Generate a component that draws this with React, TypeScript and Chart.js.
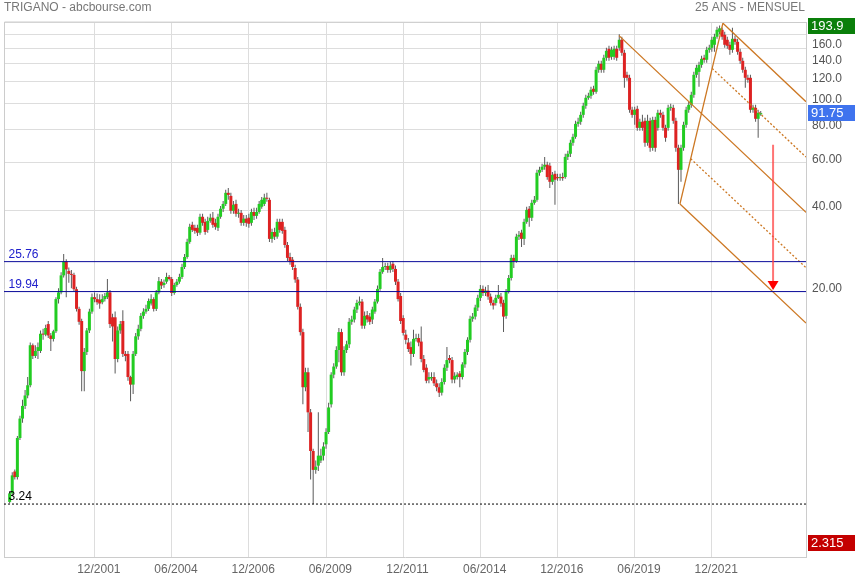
import React, { useEffect, useRef } from 'react';
import { Chart, registerables } from 'chart.js';

Chart.register(...registerables);

// ---- texts ----
const title = 'TRIGANO - abcbourse.com';
const periodLabel = '25 ANS - MENSUEL';

// ---- monthly candles (first candle month, then O/H/L/C per month) ----
const firstCandle = '03/1999';
const opens = [
  3.30, 3.55, 4.28, 4.08, 5.70, 6.73, 7.50, 8.20, 8.95, 12.6,
  11.5, 12.0, 12.0, 13.9, 13.8, 15.1, 13.7, 13.3, 14.2, 18.7,
  19.8, 22.9, 25.8, 23.8, 23.2, 23.0, 20.35, 17.2, 15.5, 10.1,
  11.9, 14.3, 16.8, 19.0, 18.7, 18.6, 18.2, 18.7, 19.0, 19.8,
  16.0, 16.0, 11.2, 14.3, 15.5, 11.7, 11.7, 9.6, 9.0, 11.7,
  13.6, 14.5, 16.2, 16.8, 17.2, 18.0, 18.7, 17.2, 19.8, 21.7,
  21.1, 21.7, 22.6, 22.2, 19.7, 21.1, 21.7, 22.6, 24.6, 26.8,
  30.5, 35.3, 34.4, 34.4, 33.0, 37.8, 36.2, 33.8, 36.5, 37.5,
  35.9, 34.4, 37.8, 40.5, 42.2, 46.4, 45.2, 39.8, 42.2, 38.8,
  39.1, 35.9, 37.2, 37.5, 35.9, 39.4, 38.1, 39.4, 41.2, 42.2,
  44.5, 43.7, 31.3, 33.2, 31.9, 36.2, 36.2, 33.8, 29.7, 26.8,
  26.2, 24.4, 22.1, 17.5, 14.1, 8.8, 10.0, 7.1, 5.1, 4.34,
  4.5, 4.7, 4.9, 5.4, 6.0, 7.6, 9.8, 10.5, 12.1, 14.1,
  10.0, 12.1, 12.7, 15.4, 15.7, 17.1, 18.1, 18.3, 14.9, 16.3,
  16.1, 15.7, 16.8, 18.3, 20.4, 23.6, 24.6, 24.8, 24.0, 25.3,
  24.2, 21.7, 19.2, 15.9, 13.8, 12.9, 12.4, 11.7, 13.3, 13.4,
  13.0, 11.2, 10.4, 9.4, 9.5, 9.6, 9.1, 8.8, 8.4, 9.2,
  10.4, 11.3, 11.1, 9.4, 9.6, 9.9, 9.6, 10.7, 11.9, 13.2,
  15.8, 16.1, 17.4, 18.9, 20.4, 19.7, 20.1, 19.1, 18.1, 18.1,
  18.9, 19.1, 18.1, 16.2, 19.9, 22.4, 26.6, 25.9, 31.9, 33.0,
  31.3, 36.2, 40.5, 37.5, 42.6, 43.7, 55.1, 56.5, 58.0, 59.0,
  58.5, 51.0, 54.6, 53.1, 52.6, 53.1, 53.1, 63.1, 64.8, 71.2,
  74.9, 83.7, 85.2, 90.4, 97.7, 104.6, 106.4, 113.0, 110.1, 132.9,
  139.9, 132.9, 147.3, 159.0, 148.5, 148.5, 159.0, 160.4, 171.8, 153.7,
  127.3, 124.1, 94.4, 90.4, 95.2, 80.9, 85.2, 85.9, 71.2, 85.9,
  68.2, 86.6, 80.9, 92.0, 90.4, 80.9, 80.9, 96.0, 96.0, 85.9,
  68.2, 56.5, 68.2, 83.0, 94.4, 98.5, 107.3, 127.3, 130.6, 138.7,
  147.3, 144.8, 157.7, 160.4, 164.6, 176.3, 183.9, 187.1, 179.3, 171.8,
  164.6, 157.7, 173.2, 168.8, 155.0, 143.5, 132.9, 124.1, 124.1, 94.4,
  96.0, 87.4, 90.8,
];
const highs = [
  3.62, 4.25, 4.35, 5.80, 6.90, 7.90, 8.60, 9.60, 12.9, 12.8,
  12.6, 12.9, 14.3, 14.5, 15.0, 15.5, 14.0, 14.4, 19.0, 20.5,
  23.5, 27.5, 26.3, 24.5, 24.0, 23.4, 20.8, 17.5, 15.8, 12.3,
  14.6, 17.2, 19.6, 19.8, 19.6, 19.5, 19.5, 19.7, 22.2, 20.2,
  16.5, 16.8, 14.8, 15.5, 17.0, 12.0, 12.0, 9.7, 12.0, 14.0,
  15.0, 16.6, 17.3, 17.8, 18.8, 19.5, 19.0, 20.2, 22.6, 22.2,
  22.1, 23.4, 23.0, 22.6, 21.5, 22.2, 23.2, 25.3, 27.5, 31.3,
  35.6, 36.2, 35.3, 35.3, 38.8, 38.8, 37.2, 37.8, 38.8, 39.4,
  37.2, 38.8, 41.5, 43.3, 47.6, 48.4, 46.4, 43.3, 43.7, 40.5,
  40.1, 38.4, 38.4, 38.8, 40.5, 40.8, 40.8, 43.3, 44.8, 46.0,
  46.4, 44.5, 34.1, 34.4, 37.2, 37.2, 37.2, 34.7, 30.5, 27.8,
  26.8, 25.1, 22.6, 18.0, 14.5, 10.4, 10.4, 7.3, 5.2, 4.7,
  7.1, 5.2, 5.5, 6.2, 7.7, 10.0, 10.8, 12.5, 14.6, 14.5,
  12.5, 13.1, 15.9, 16.2, 17.5, 18.6, 19.1, 18.7, 16.8, 16.9,
  16.6, 17.5, 18.7, 21.0, 24.2, 26.6, 25.5, 25.5, 25.7, 25.9,
  24.9, 22.2, 19.7, 16.3, 14.4, 13.4, 13.0, 14.4, 13.9, 13.9,
  14.8, 11.6, 10.7, 10.0, 10.0, 10.0, 9.4, 9.1, 9.5, 10.7,
  12.4, 11.6, 11.4, 10.0, 10.0, 10.1, 10.9, 12.2, 13.5, 16.2,
  16.6, 17.8, 19.4, 21.1, 21.0, 20.8, 21.1, 19.6, 18.6, 19.4,
  21.1, 19.7, 18.6, 20.4, 23.0, 27.3, 27.3, 32.7, 33.5, 33.8,
  37.2, 41.2, 41.5, 43.7, 45.2, 56.5, 58.0, 59.5, 63.1, 60.5,
  60.0, 55.5, 56.0, 54.6, 54.6, 55.1, 64.8, 66.5, 73.0, 76.9,
  85.9, 88.1, 92.8, 100.2, 107.3, 109.2, 114.9, 115.9, 136.3, 143.5,
  143.5, 151.1, 160.4, 163.2, 161.8, 163.2, 163.2, 180.0, 176.3, 157.7,
  130.6, 127.3, 96.8, 96.8, 97.7, 87.4, 90.4, 88.1, 90.4, 88.1,
  88.9, 88.9, 94.4, 94.4, 92.8, 83.0, 98.5, 99.4, 98.5, 88.1,
  70.0, 70.0, 85.2, 96.8, 101.1, 110.1, 130.6, 138.7, 142.3, 149.8,
  151.1, 161.8, 164.6, 176.3, 180.8, 192.0, 193.9, 191.0, 183.9, 176.3,
  168.8, 190.3, 177.8, 173.2, 159.0, 147.3, 136.3, 127.3, 127.3, 98.5,
  98.5, 94.4, 93.5,
];
const lows = [
  3.26, 3.50, 4.00, 4.00, 5.60, 6.50, 7.30, 8.00, 8.80, 11.2,
  11.3, 11.2, 11.8, 13.2, 13.6, 13.4, 12.0, 13.0, 14.0, 18.0,
  19.5, 22.5, 19.0, 21.5, 20.5, 20.0, 16.8, 15.0, 8.5, 8.5,
  11.6, 14.0, 16.5, 18.2, 17.8, 17.2, 17.9, 18.3, 18.7, 14.6,
  13.0, 9.9, 10.9, 13.9, 11.4, 11.0, 9.3, 7.8, 8.3, 11.5,
  13.2, 14.2, 15.8, 16.5, 16.9, 17.7, 16.8, 16.9, 19.5, 20.4,
  20.6, 21.3, 21.9, 19.2, 19.4, 20.8, 21.3, 22.2, 24.2, 26.4,
  30.0, 33.2, 32.7, 32.1, 32.4, 35.0, 32.4, 33.0, 35.9, 34.4,
  33.8, 33.5, 37.2, 39.4, 41.5, 43.7, 38.8, 38.8, 37.8, 37.5,
  35.0, 35.0, 34.7, 34.4, 35.0, 36.8, 37.2, 38.8, 40.5, 41.5,
  43.0, 30.5, 30.3, 31.0, 31.3, 33.0, 32.7, 29.0, 25.9, 25.1,
  24.0, 21.5, 17.1, 13.7, 7.6, 8.5, 6.0, 4.0, 3.24, 4.2,
  4.3, 4.6, 4.7, 5.2, 5.9, 7.4, 9.5, 10.3, 10.9, 9.7,
  9.7, 11.8, 12.3, 15.0, 15.3, 16.6, 17.7, 14.5, 14.5, 15.3,
  15.0, 15.1, 16.5, 18.0, 20.1, 23.2, 24.0, 23.4, 23.4, 23.6,
  21.1, 18.3, 15.1, 13.7, 12.7, 11.9, 10.6, 11.4, 13.0, 12.5,
  10.9, 10.0, 9.1, 9.1, 9.3, 8.9, 8.5, 8.1, 8.2, 9.0,
  10.1, 10.8, 9.1, 9.1, 9.4, 8.8, 9.4, 10.4, 11.6, 12.9,
  15.4, 15.7, 16.9, 18.4, 19.2, 19.2, 18.6, 17.7, 17.1, 17.7,
  18.7, 17.5, 14.1, 15.8, 19.6, 21.9, 24.4, 25.5, 31.0, 29.2,
  29.7, 35.6, 34.7, 36.5, 41.9, 43.0, 53.7, 55.5, 56.5, 51.9,
  48.4, 49.7, 41.9, 51.4, 51.4, 51.4, 52.3, 61.5, 63.1, 69.4,
  73.7, 81.6, 83.0, 88.1, 95.2, 102.8, 103.7, 107.3, 108.2, 129.5,
  129.5, 129.5, 143.5, 143.5, 144.8, 144.8, 143.5, 156.3, 149.8, 113.9,
  121.0, 92.0, 88.1, 83.0, 78.9, 78.9, 78.9, 68.8, 69.4, 65.9,
  66.5, 65.9, 78.9, 88.1, 78.9, 71.8, 78.9, 93.6, 83.7, 65.9,
  42.2, 51.0, 66.5, 80.9, 92.0, 96.0, 104.6, 124.1, 114.9, 135.2,
  141.1, 141.1, 153.7, 155.0, 155.0, 173.2, 180.0, 171.8, 160.4, 159.0,
  151.1, 153.7, 164.6, 151.1, 139.9, 129.5, 113.9, 118.9, 92.0, 92.0,
  85.2, 74.3, 89.8,
];
const closes = [
  3.55, 4.14, 4.08, 5.70, 6.73, 7.50, 8.20, 8.95, 12.6, 11.5,
  12.0, 12.4, 13.9, 13.8, 14.6, 13.7, 13.3, 14.2, 18.7, 19.8,
  22.9, 25.8, 24.1, 23.2, 23.0, 20.35, 17.2, 15.4, 10.1, 11.9,
  14.3, 16.8, 19.0, 18.7, 18.2, 18.0, 18.7, 19.2, 19.8, 15.1,
  14.8, 11.2, 14.3, 15.1, 11.7, 11.5, 9.6, 9.0, 11.7, 13.6,
  14.5, 16.2, 16.8, 17.2, 18.4, 18.7, 17.2, 19.8, 21.8, 21.0,
  21.5, 22.6, 22.2, 19.7, 21.1, 21.7, 22.6, 24.6, 26.8, 30.5,
  34.7, 33.8, 33.5, 33.0, 37.8, 35.9, 33.2, 36.5, 37.5, 35.3,
  34.7, 37.8, 40.5, 42.2, 46.4, 45.6, 39.8, 41.9, 38.8, 39.1,
  35.9, 37.2, 35.9, 35.6, 39.4, 38.1, 39.4, 42.2, 43.7, 44.5,
  44.1, 31.3, 33.2, 31.9, 36.2, 33.8, 33.5, 29.7, 26.6, 25.7,
  24.6, 22.1, 17.5, 14.1, 8.8, 10.0, 7.1, 5.1, 4.34, 4.46,
  4.9, 4.9, 5.3, 6.0, 7.4, 9.8, 10.5, 12.1, 14.1, 10.0,
  12.1, 12.7, 15.4, 15.7, 17.1, 18.1, 18.3, 14.9, 16.2, 15.7,
  15.4, 17.1, 18.3, 20.4, 23.6, 24.6, 24.8, 24.0, 24.9, 24.2,
  21.7, 18.7, 15.5, 14.0, 13.2, 12.2, 11.7, 13.3, 13.4, 12.9,
  11.2, 10.2, 9.3, 9.6, 9.6, 9.1, 8.8, 8.4, 9.2, 10.4,
  11.1, 11.1, 9.4, 9.7, 9.8, 9.6, 10.7, 11.9, 13.2, 15.8,
  16.1, 17.4, 18.9, 20.4, 19.7, 20.1, 19.1, 18.1, 17.7, 18.9,
  19.4, 18.0, 16.1, 19.9, 22.4, 26.6, 25.9, 31.9, 32.4, 31.3,
  36.2, 40.1, 37.5, 42.6, 43.7, 55.1, 56.5, 58.0, 59.0, 53.1,
  51.0, 54.1, 51.9, 52.6, 53.1, 52.6, 63.1, 64.8, 71.2, 74.9,
  83.7, 85.2, 90.4, 97.7, 104.6, 106.4, 112.0, 110.1, 132.9, 139.9,
  132.9, 147.3, 156.3, 147.3, 157.7, 159.0, 147.3, 171.8, 153.7, 124.1,
  124.1, 94.4, 90.4, 94.4, 80.9, 85.2, 80.9, 71.2, 85.9, 68.2,
  86.6, 68.2, 92.0, 90.4, 80.9, 74.3, 96.0, 96.8, 85.9, 68.2,
  56.5, 68.2, 83.0, 94.4, 98.5, 107.3, 127.3, 135.2, 138.7, 146.0,
  144.8, 157.7, 160.4, 171.8, 176.3, 187.1, 189.5, 176.3, 164.6, 163.2,
  157.7, 173.2, 168.8, 155.0, 143.5, 132.9, 124.1, 122.0, 94.4, 96.0,
  87.4, 92.0, 91.75,
];

// ---- axes ----
const xTickLabels = ['12/2001', '06/2004', '12/2006', '06/2009', '12/2011', '06/2014', '12/2016', '06/2019', '12/2021'];
const yTickValues = [20, 40, 60, 80, 100, 120, 140, 160, 180, 200];
const yLabelledTicks = [20, 40, 60, 80, 100, 120, 140, 160];

// ---- annotations ----
const levelLines = [25.76, 19.94];
const lowLine = 3.24;
const highMarker = 193.9;
const lastMarker = 91.75;
const lowMarker = 2.315;
// Andrews pitchfork pivots (x in months since 01/1999, price)
const pivotMonths = [238.9, 262.6, 279.3];
const pivotPrices = [178, 42.2, 198];
// projected target arrow
const arrowMonth = 298.8;
const arrowFrom = 70;
const arrowTo = 20.2;

const X_MIN = -0.2;
const X_MAX = 311.6;
const Y_MIN = 2.06;
const Y_MAX = 200;

const FONT = '"Liberation Sans", Arial, Helvetica, sans-serif';
const GREEN = '#22cc22';
const RED = '#dd2222';
const ORANGE = '#cc7722';

const monthOf = (label: string) => {
  const [mm, yyyy] = label.split('/').map(Number);
  return (yyyy - 1999) * 12 + (mm - 1);
};

export default function App() {
  const ref = useRef<HTMLCanvasElement>(null);

  useEffect(() => {
    const canvas = ref.current;
    if (!canvas) return;
    const first = monthOf(firstCandle);
    const bodies = opens.map((o, i) => ({ x: first + i, y: [o, closes[i]] }));
    const wicks = lows.map((l, i) => ({ x: first + i, y: [l, highs[i]] }));
    const bodyColors = opens.map((o, i) => (closes[i] >= o ? GREEN : RED));

    const L = Math.log;
    const [m1, m2, m3] = pivotMonths;
    const [p1, p2, p3] = pivotPrices;
    const midM = (m2 + m3) / 2;
    const midL = (L(p2) + L(p3)) / 2;
    const slope = (midL - L(p1)) / (midM - m1);
    const ray = (m: number, lp: number) => [
      { x: m, y: Math.exp(lp) },
      { x: X_MAX, y: Math.exp(lp + slope * (X_MAX - m)) },
    ];
    const along = (t: number): [number, number] => [m2 + t * (m3 - m2), L(p2) + t * (L(p3) - L(p2))];

    const lineDs = (data: any[], color: string, width: number, dash: number[] = []) => ({
      type: 'line' as const,
      data,
      borderColor: color,
      borderWidth: width,
      borderDash: dash,
      pointRadius: 0,
      fill: false,
      tension: 0,
      order: 0,
    });

    const xLabelMap = new Map(xTickLabels.map((l) => [monthOf(l), l]));

    const overlay = {
      id: 'overlay',
      beforeDatasetsDraw(chart: any) {
        const { ctx, chartArea: a } = chart;
        ctx.save();
        ctx.strokeStyle = '#cccccc';
        ctx.lineWidth = 1;
        ctx.beginPath();
        ctx.moveTo(Math.round(a.left) + 0.5, Math.round(a.bottom));
        ctx.lineTo(Math.round(a.left) + 0.5, Math.round(a.top));
        ctx.lineTo(Math.round(a.right), Math.round(a.top) + 0.5);
        ctx.stroke();
        ctx.restore();
      },
      afterDatasetsDraw(chart: any) {
        const { ctx, scales } = chart;
        const ys = scales.y;
        const xs = scales.x;
        ctx.save();
        ctx.font = `12px ${FONT}`;
        ctx.textBaseline = 'alphabetic';
        ctx.textAlign = 'left';
        levelLines.forEach((v) => {
          ctx.fillStyle = '#2020cc';
          ctx.fillText(String(v), 8.5, ys.getPixelForValue(v) - 4);
        });
        ctx.fillStyle = '#000000';
        ctx.fillText(String(lowLine), 8.5, ys.getPixelForValue(lowLine) - 4);

        // arrow
        const ax = xs.getPixelForValue(arrowMonth);
        const y0 = ys.getPixelForValue(arrowFrom);
        const y1 = ys.getPixelForValue(arrowTo);
        ctx.strokeStyle = 'rgba(255, 70, 70, 0.75)';
        ctx.lineWidth = 2;
        ctx.beginPath();
        ctx.moveTo(ax, y0);
        ctx.lineTo(ax, y1 - 8);
        ctx.stroke();
        ctx.fillStyle = '#ff0000';
        ctx.beginPath();
        ctx.moveTo(ax - 5.5, y1 - 9);
        ctx.lineTo(ax + 5.5, y1 - 9);
        ctx.lineTo(ax, y1);
        ctx.closePath();
        ctx.fill();
        ctx.restore();
      },
      afterDraw(chart: any) {
        const { ctx, scales } = chart;
        const ys = scales.y;
        ctx.save();
        ctx.font = `12px ${FONT}`;
        ctx.fillStyle = '#777777';
        ctx.textBaseline = 'middle';
        ctx.textAlign = 'left';
        ctx.fillText(title, 4, 8);
        ctx.textAlign = 'right';
        ctx.fillText(periodLabel, 805, 8);

        const boxes: [number, string][] = [
          [highMarker, '#0a7f0a'],
          [lastMarker, '#3f73ee'],
          [lowMarker, '#c40000'],
        ];
        ctx.textAlign = 'left';
        ctx.font = `13px ${FONT}`;
        boxes.forEach(([v, c]) => {
          const y = ys.getPixelForValue(v);
          ctx.fillStyle = c;
          ctx.fillRect(808, Math.round(y - 8), 47, 16);
          ctx.fillStyle = '#ffffff';
          ctx.fillText(String(v), 811, Math.round(y) + 0.5);
        });
        ctx.restore();
      },
    };

    const chart = new Chart(canvas, {
      type: 'bar',
      data: {
        datasets: [
          ...levelLines.map((v) => lineDs([{ x: X_MIN, y: v }, { x: X_MAX, y: v }], '#0a0a9a', 1)),
          lineDs([{ x: X_MIN, y: lowLine }, { x: X_MAX, y: lowLine }], '#000000', 1, [2, 2]),
          lineDs([{ x: m2, y: p2 }, { x: m3, y: p3 }], ORANGE, 1.3),
          lineDs(ray(m1, L(p1)), ORANGE, 1.3),
          lineDs(ray(m3, L(p3)), ORANGE, 1.3),
          lineDs(ray(m2, L(p2)), ORANGE, 1.3),
          lineDs(ray(...along(0.25)), ORANGE, 1.3, [2, 2]),
          lineDs(ray(...along(0.75)), ORANGE, 1.3, [2, 2]),
          {
            type: 'bar' as const,
            data: bodies as any,
            backgroundColor: bodyColors,
            barThickness: 3,
            grouped: false,
            minBarLength: 1,
            inflateAmount: 0,
            borderWidth: 0,
            order: 1,
          },
          {
            type: 'bar' as const,
            data: wicks as any,
            backgroundColor: '#5a5a5a',
            barThickness: 1,
            grouped: false,
            minBarLength: 1,
            inflateAmount: 0,
            borderWidth: 0,
            order: 2,
          },
        ] as any,
      },
      options: {
        responsive: false,
        animation: false,
        devicePixelRatio: 1,
        events: [],
        layout: { padding: { left: 4, right: 0, top: 22, bottom: 0 } },
        plugins: {
          legend: { display: false },
          tooltip: { enabled: false },
          title: { display: false },
        },
        scales: {
          x: {
            type: 'linear',
            min: X_MIN,
            max: X_MAX,
            offset: false,
            grid: { color: '#dddddd', drawTicks: false, offset: false },
            border: { color: '#cccccc' },
            afterBuildTicks: (scale: any) => {
              scale.ticks = xTickLabels.map((l) => ({ value: monthOf(l) }));
            },
            afterFit: (scale: any) => {
              scale.height = 23;
            },
            ticks: {
              autoSkip: false,
              maxRotation: 0,
              padding: 5,
              labelOffset: 4.3,
              color: '#666666',
              font: { size: 12, family: FONT },
              callback: (v: any) => xLabelMap.get(v) ?? '',
            },
          },
          y: {
            type: 'logarithmic',
            position: 'right',
            min: Y_MIN,
            max: Y_MAX,
            grid: { color: '#dddddd', drawTicks: false },
            border: { color: '#cccccc' },
            afterBuildTicks: (scale: any) => {
              scale.ticks = yTickValues.map((v) => ({ value: v }));
            },
            afterFit: (scale: any) => {
              scale.width = 49;
            },
            ticks: {
              autoSkip: false,
              padding: 6,
              labelOffset: -3,
              color: '#555555',
              font: { size: 12, family: FONT },
              callback: (v: any) =>
                yLabelledTicks.includes(v) ? (v < 100 ? Number(v).toFixed(2) : Number(v).toFixed(1)) : '',
            },
          },
        },
      } as any,
      plugins: [overlay],
    });

    return () => chart.destroy();
  }, []);

  return (
    <div style={{ position: 'absolute', left: 0, top: 0, width: 855, height: 580, background: '#ffffff' }}>
      <canvas ref={ref} width={855} height={580} style={{ display: 'block' }} />
    </div>
  );
}
